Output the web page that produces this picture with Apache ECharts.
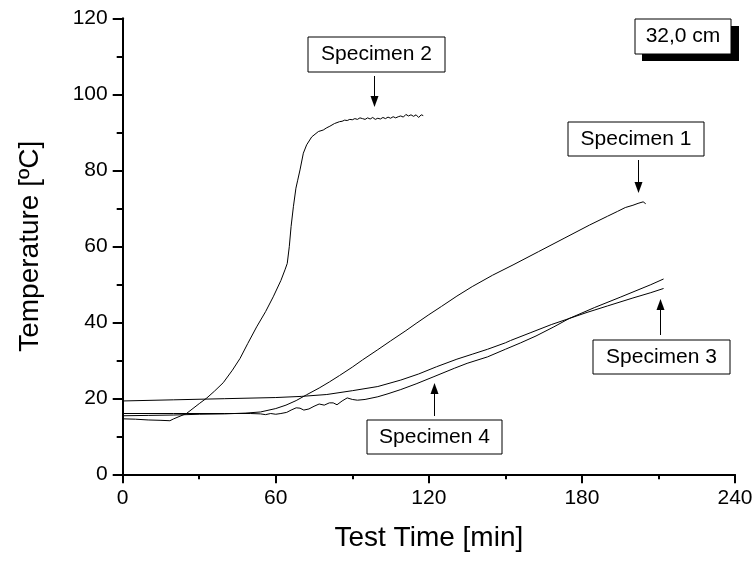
<!DOCTYPE html>
<html>
<head>
<meta charset="utf-8">
<script src="https://cdn.jsdelivr.net/npm/echarts@6/dist/echarts.min.js"></script>
<style>
html,body{margin:0;padding:0;background:#fff;}
#chart{width:756px;height:561px;}
</style>
</head>
<body>
<div id="chart"></div>
<script>
// ---- data (time [min], temperature [ºC]) ----
var xTicks = [0, 60, 120, 180, 240];
var yTicks = [0, 20, 40, 60, 80, 100, 120];

var specimen1 = [
  [0,15.4],[10,15.5],[20,15.6],[30,15.8],[40,15.9],[48,16.1],[54,16.4],[60,17.3],[64,18.2],
  [68,19.4],[72,20.9],[77,22.7],[81,24.3],[85,26.0],[90,28.2],[94,30.1],[100,32.8],[105,35.1],
  [111,37.8],[115,39.7],[120,42.0],[125,44.2],[131,46.9],[137,49.4],[145,52.4],[153,55.1],
  [163,58.6],[173,62.1],[183,65.6],[190,67.9],[194,69.2],[197,70.2],[200,70.8],[202,71.3],
  [204,71.7],[205,71.2]
];
var specimen2 = [
  [0,14.6],[5,14.5],[10,14.3],[15,14.2],[18.5,14.1],[20,14.6],[25,16.0],[30,18.6],[33,20.1],
  [36,21.9],[39.4,24.1],[43,27.4],[46,30.5],[49,34.4],[52.5,38.8],[56,42.8],[59,46.7],
  [62,51.0],[63.6,53.8],[64.1,54.3],[64.5,55.5],[65.3,59.9],[66.0,65.2],[66.9,70.4],
  [67.9,75.3],[68.6,77.4],[69.5,80.1],[70.8,84.5],[72.1,86.7],[74.1,88.8],[76.7,90.2],
  [78.6,90.6],[80,91.2],[81.2,91.6],[83,92.3],[85,92.8],[86,92.9],[87,93.2],[88,93.1],
  [89,93.4],[90,93.3],[91,93.6],[92,93.4],[93,93.8],[94,93.6],[95,93.4],[96,93.8],[97,93.5],
  [98,93.9],[99,93.4],[100,93.7],[101,93.5],[102,93.9],[103,93.6],[104,94.0],[105,93.7],
  [106,94.1],[107,93.8],[108,94.1],[109,94.3],[110,94.0],[111,94.7],[112,94.3],[113,94.6],
  [114,94.2],[115,94.6],[116,93.9],[117,94.6],[117.8,94.4]
];
var specimen3 = [
  [0,19.3],[20,19.6],[40,19.9],[60,20.2],[70,20.5],[80,21.0],[90,22.0],[100,23.1],[109,24.8],
  [116,26.4],[123,28.3],[131,30.3],[137,31.6],[143,32.9],[150,34.6],[152,35.2],[160,37.3],
  [168,39.4],[175,41.0],[182,42.6],[190,44.3],[200,46.4],[207,47.8],[212,48.9]
];
var specimen4 = [
  [0,16.0],[20,16.0],[40,16.0],[50,16.0],[54,15.9],[56,15.7],[58,16.0],[60,15.8],[62,16.0],
  [64.3,16.3],[66,16.9],[68,17.5],[69.5,17.4],[71,16.9],[73,17.2],[75,17.9],[77,18.5],[79,18.2],
  [81,18.8],[82.5,18.8],[84,18.3],[86,19.3],[88,20.1],[90,19.7],[92,19.5],[95,19.7],[100,20.4],
  [104,21.2],[109,22.3],[115,23.8],[122,25.7],[130,27.9],[135,29.2],[143,30.9],[150,32.9],
  [156,34.6],[162,36.4],[169,38.8],[175,41.0],[185,43.9],[195,46.6],[207,49.9],[212,51.4]
];

var FONT = 'Liberation Sans, Arial, sans-serif';

function mkSeries(name, data) {
  return {
    name: name, type: 'line', data: data, showSymbol: false, symbol: 'none',
    lineStyle: { color: '#000', width: 1 }, silent: true
  };
}

function box(x, y, w, h, text) {
  return [
    { type: 'rect', shape: { x: x, y: y, width: w, height: h },
      style: { fill: '#fff', stroke: '#000', lineWidth: 1 }, z: 100 },
    { type: 'text', x: x + w / 2, y: y + h / 2,
      style: { text: text, font: '21px ' + FONT, fill: '#000', textAlign: 'center', textVerticalAlign: 'middle' }, z: 101 }
  ];
}
function arrow(x, y1, y2) {
  var dir = y2 > y1 ? 1 : -1;
  var hl = 11, hw = 4;
  return [
    { type: 'line', shape: { x1: x, y1: y1, x2: x, y2: y2 - dir * hl },
      style: { stroke: '#000', lineWidth: 1 }, z: 100 },
    { type: 'polygon', shape: { points: [[x - hw, y2 - dir * hl], [x + hw, y2 - dir * hl], [x, y2]] },
      style: { fill: '#000' }, z: 100 }
  ];
}

var graphics = [].concat(
  box(308, 37, 137, 35, 'Specimen 2'), arrow(374.5, 76, 107),
  box(568, 122, 136, 34, 'Specimen 1'), arrow(638.5, 160, 193),
  [{ type: 'rect', shape: { x: 642, y: 26, width: 97, height: 35 }, style: { fill: '#000' }, z: 99 }],
  box(635, 19, 96, 35, '32,0 cm'),
  box(593, 340, 137, 34, 'Specimen 3'), arrow(660.5, 335, 299),
  box(367, 420, 135, 34, 'Specimen 4'), arrow(434.5, 416, 383)
);

var chart = echarts.init(document.getElementById('chart'), null, { renderer: 'canvas' });
chart.setOption({
  animation: false,
  backgroundColor: '#fff',
  grid: { left: 122.7, right: 21, top: 18.3, bottom: 86.7, containLabel: false },
  xAxis: {
    type: 'value', min: xTicks[0], max: xTicks[xTicks.length - 1], interval: xTicks[1] - xTicks[0],
    name: 'Test Time [min]', nameLocation: 'middle', nameGap: 50,
    nameTextStyle: { fontSize: 28, color: '#000', fontFamily: FONT },
    axisLine: { show: true, lineStyle: { color: '#000', width: 2 } },
    axisTick: { show: true, inside: false, length: 9, lineStyle: { color: '#000', width: 2 } },
    minorTick: { show: true, splitNumber: 2, length: 5, lineStyle: { color: '#000', width: 2 } },
    axisLabel: { fontSize: 21, color: '#000', fontFamily: FONT, margin: 13 },
    splitLine: { show: false }
  },
  yAxis: {
    type: 'value', min: yTicks[0], max: yTicks[yTicks.length - 1], interval: yTicks[1] - yTicks[0],
    name: 'Temperature [ºC]', nameLocation: 'middle', nameGap: 78, nameRotate: 90,
    nameTextStyle: { fontSize: 28, color: '#000', fontFamily: FONT },
    axisLine: { show: true, lineStyle: { color: '#000', width: 2 } },
    axisTick: { show: true, inside: false, length: 10, lineStyle: { color: '#000', width: 2 } },
    minorTick: { show: true, splitNumber: 2, length: 6, lineStyle: { color: '#000', width: 2 } },
    axisLabel: { fontSize: 21, color: '#000', fontFamily: FONT, margin: 15 },
    splitLine: { show: false }
  },
  series: [
    mkSeries('Specimen 1', specimen1),
    mkSeries('Specimen 2', specimen2),
    mkSeries('Specimen 3', specimen3),
    mkSeries('Specimen 4', specimen4)
  ],
  graphic: graphics
});
</script>
</body>
</html>
